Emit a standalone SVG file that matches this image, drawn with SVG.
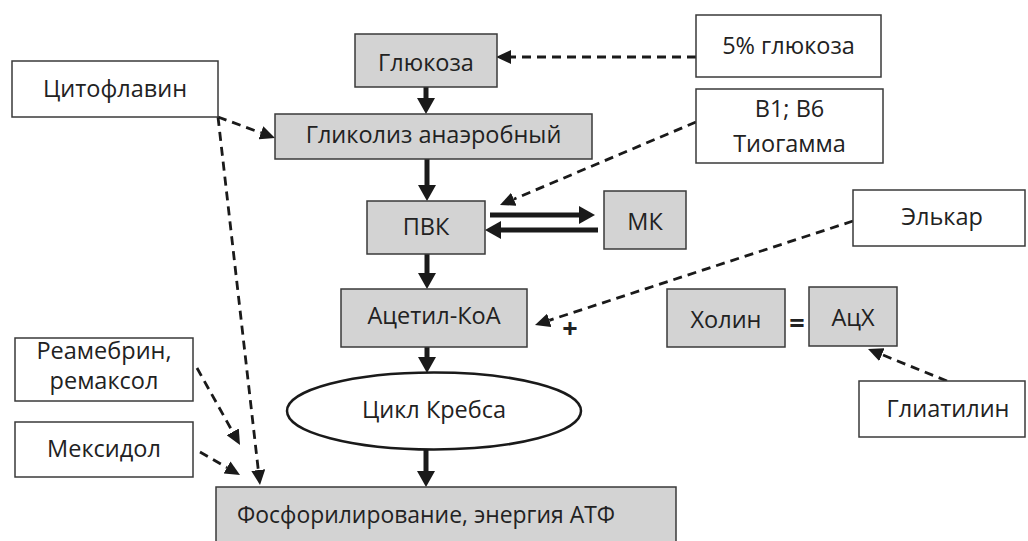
<svg xmlns="http://www.w3.org/2000/svg" width="1028" height="541" viewBox="0 0 1028 541">
<defs>
<style>
.bx{fill:#d3d3d3;stroke:#3a3a3a;stroke-width:1.5}
.wb{fill:#fff;stroke:#3a3a3a;stroke-width:1.5}
text{font-family:"Open Sans","Noto Sans","DejaVu Sans",sans-serif;font-size:23.5px;fill:#222}
.c{text-anchor:middle}
.sym{font-weight:bold;font-size:27px}
.solid{stroke:#1a1a1a;stroke-width:5;fill:none;marker-end:url(#hs)}
.dash{stroke:#1a1a1a;stroke-width:2.8;fill:none;stroke-dasharray:9 6;marker-end:url(#hd)}
</style>
<marker id="hs" viewBox="0 -9 16 18" refX="0" refY="0" markerWidth="16" markerHeight="18" markerUnits="userSpaceOnUse" orient="auto"><path d="M0,-9 L16,0 L0,9 z" fill="#1a1a1a"/></marker>
<marker id="hd" viewBox="0 -7 15 14" refX="0" refY="0" markerWidth="15" markerHeight="14" markerUnits="userSpaceOnUse" orient="auto"><path d="M0,-7 L15,0 L0,7 z" fill="#1a1a1a"/></marker>
</defs>
<rect width="1028" height="541" fill="#fff"/>
<g id="connectors">
<line class="solid" x1="426" y1="87" x2="426" y2="98"/>
<line class="solid" x1="427" y1="159" x2="427" y2="185"/>
<line class="solid" x1="427" y1="254" x2="427" y2="273"/>
<line class="solid" x1="427" y1="347" x2="427" y2="357"/>
<line class="solid" x1="426" y1="450" x2="426" y2="471"/>
<line class="solid" x1="490" y1="215" x2="579" y2="215"/>
<line class="solid" x1="598" y1="230" x2="501" y2="230"/>
<line class="dash" x1="696" y1="57" x2="511" y2="57"/>
<line class="dash" x1="218" y1="117" x2="260.9" y2="132.8"/>
<line class="dash" x1="218" y1="117" x2="258.3" y2="470.1"/>
<line class="dash" x1="696" y1="122" x2="513.8" y2="199.2"/>
<line class="dash" x1="853" y1="221" x2="549.3" y2="320.3"/>
<line class="dash" x1="947" y1="381" x2="881.9" y2="354.6"/>
<line class="dash" x1="197" y1="368" x2="232.7" y2="431.9"/>
<line class="dash" x1="200" y1="452" x2="227" y2="467.5"/>
<text x="570" y="338" class="c sym">+</text>
<text x="797" y="333" class="c sym">=</text>
</g>
<g id="n-citoflavin"><rect class="wb" x="12" y="61" width="206" height="56"/><text x="115" y="97" class="c">Цитофлавин</text></g>
<g id="n-glucose"><rect class="bx" x="355" y="34" width="142" height="53"/><text x="426" y="71" class="c">Глюкоза</text></g>
<g id="n-glucose5"><rect class="wb" x="696" y="15" width="185" height="62"/><text x="788.5" y="54" class="c">5% глюкоза</text></g>
<g id="n-glycolysis"><rect class="bx" x="275" y="114" width="317" height="45"/><text x="433.5" y="143" class="c">Гликолиз анаэробный</text></g>
<g id="n-b1b6"><rect class="wb" x="696" y="89" width="187" height="74"/><text x="789.5" y="117" class="c">В1; В6</text><text x="789.5" y="152" class="c">Тиогамма</text></g>
<g id="n-pvk"><rect class="bx" x="367" y="201" width="118" height="53"/><text x="426" y="235" class="c">ПВК</text></g>
<g id="n-mk"><rect class="bx" x="604" y="191" width="82" height="58"/><text x="645" y="230" class="c">МК</text></g>
<g id="n-elkar"><rect class="wb" x="853" y="190" width="172" height="56"/><text x="942" y="225" class="c">Элькар</text></g>
<g id="n-acetyl"><rect class="bx" x="341" y="289" width="186" height="58"/><text x="434" y="324" class="c">Ацетил-КоА</text></g>
<g id="n-holin"><rect class="bx" x="667" y="289" width="118" height="58"/><text x="726" y="328" class="c">Холин</text></g>
<g id="n-ach"><rect class="bx" x="809" y="287" width="88" height="59"/><text x="853" y="326" class="c">АцХ</text></g>
<g id="n-krebs"><ellipse cx="434" cy="411" rx="147" ry="38.5" fill="#fff" stroke="#1a1a1a" stroke-width="2.5"/><text x="434" y="418" class="c">Цикл Кребса</text></g>
<g id="n-reamberin"><rect class="wb" x="15" y="338" width="178" height="63"/><text x="104" y="359" class="c">Реамебрин,</text><text x="104" y="389" class="c">ремаксол</text></g>
<g id="n-mexidol"><rect class="wb" x="15" y="422" width="178" height="55"/><text x="104" y="457" class="c">Мексидол</text></g>
<g id="n-gliatilin"><rect class="wb" x="859" y="381" width="166" height="56"/><text x="948" y="417" class="c">Глиатилин</text></g>
<g id="n-phos"><rect class="bx" x="216" y="487" width="460" height="60"/><text x="237" y="523" textLength="378" lengthAdjust="spacingAndGlyphs">Фосфорилирование, энергия АТФ</text></g>
</svg>
